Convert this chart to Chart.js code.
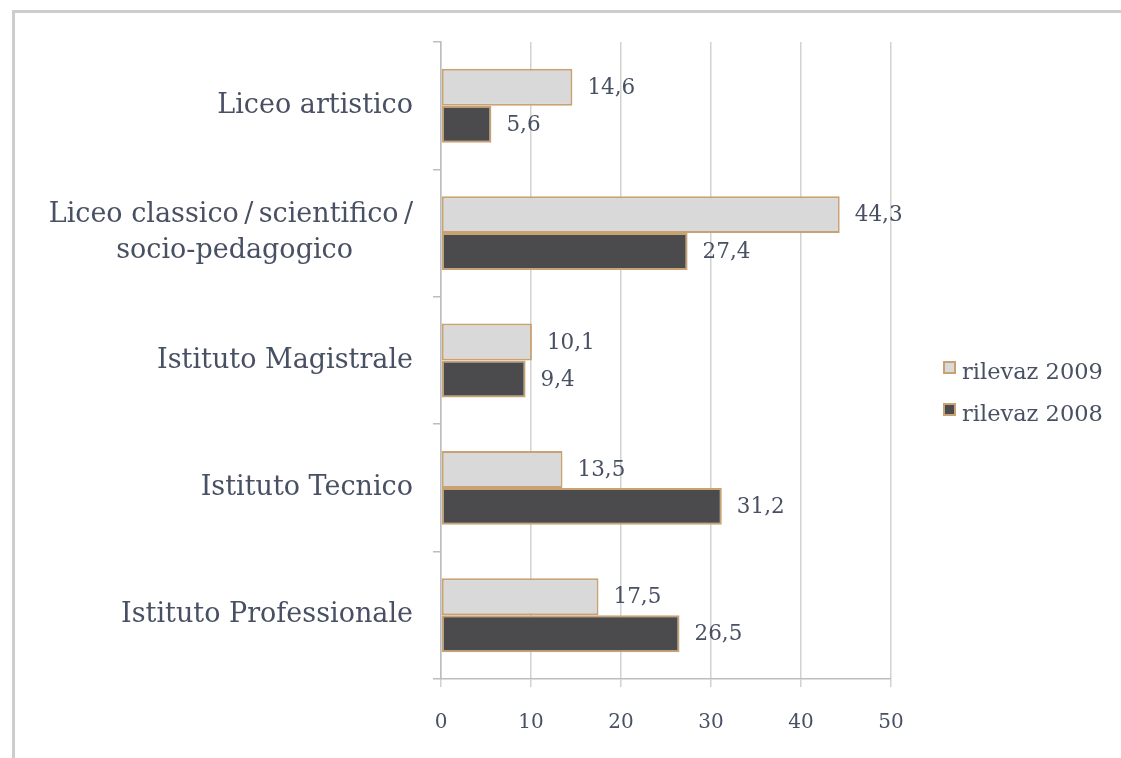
<!DOCTYPE html>
<html>
<head>
<meta charset="utf-8">
<script src="https://cdn.jsdelivr.net/npm/chart.js@4/dist/chart.umd.min.js"></script>
<style>
  html, body { margin: 0; padding: 0; background: #ffffff; }
  #wrap { position: relative; width: 1121px; height: 758px; overflow: hidden; }
  #frame { position: absolute; left: 12px; top: 10px; width: 1200px; height: 800px;
           border-top: 3px solid #cdcdcd; border-left: 3px solid #cdcdcd; }
  canvas { position: absolute; left: 0; top: 0; }
  #legend { position: absolute; left: 943px; top: 350px; font-family: "DejaVu Serif", serif;
            font-size: 22.5px; color: #485063; }
  #legend .item { display: flex; align-items: center; height: 42px; }
  #legend .box { width: 9px; height: 9px; border: 2px solid #c8a273; margin-right: 6px; margin-top: -8px; }
</style>
</head>
<body>
<div id="wrap">
  <div id="frame"></div>
  <canvas id="c" width="1121" height="758"></canvas>
  <div id="legend"></div>
</div>
<script>
const categories = [
  "Liceo artistico",
  ["Liceo classico\u2009/\u2009scientifico\u2009/", "socio-pedagogico\u00A0\u00A0\u00A0\u00A0\u00A0\u00A0\u00A0"],
  "Istituto Magistrale",
  "Istituto Tecnico",
  "Istituto Professionale"
];
const seriesNames = ["rilevaz 2009", "rilevaz 2008"];
const values2009 = [14.6, 44.3, 10.1, 13.5, 17.5];
const values2008 = [5.6, 27.4, 9.4, 31.2, 26.5];
const xTicks = [0, 10, 20, 30, 40, 50];

const textColor = "#485063";
const serif = "'DejaVu Serif', 'Liberation Serif', serif";

const valueLabels = {
  id: "valueLabels",
  afterDatasetsDraw(chart) {
    const ctx = chart.ctx;
    ctx.save();
    ctx.font = "21.5px " + serif;
    ctx.fillStyle = textColor;
    ctx.textAlign = "left";
    ctx.textBaseline = "middle";
    chart.data.datasets.forEach((ds, i) => {
      const meta = chart.getDatasetMeta(i);
      meta.data.forEach((el, j) => {
        const v = ds.data[j];
        ctx.fillText(v.toFixed(1).replace(".", ","), el.x + 15, el.y + 1);
      });
    });
    ctx.restore();
  }
};

const chart = new Chart(document.getElementById("c"), {
  type: "bar",
  data: {
    labels: categories,
    datasets: [
      { label: seriesNames[0], data: values2009, backgroundColor: "#d9d9d9",
        borderColor: "#c8a273", borderWidth: 2, borderSkipped: false },
      { label: seriesNames[1], data: values2008, backgroundColor: "#4b4b4d",
        borderColor: "#c8a273", borderWidth: 2, borderSkipped: false }
    ]
  },
  options: {
    indexAxis: "y",
    responsive: false,
    animation: false,
    devicePixelRatio: 1,
    layout: { padding: { left: 0, top: 42, right: 230, bottom: 0 } },
    datasets: { bar: { categoryPercentage: 0.58, barPercentage: 1.0 } },
    plugins: { legend: { display: false }, tooltip: { enabled: false } },
    scales: {
      x: {
        min: 0, max: 50,
        afterBuildTicks(scale) { scale.ticks = xTicks.map(v => ({ value: v })); },
        afterFit(scale) { scale.height = 79; },
        grid: { color: "#d2d2d2", lineWidth: 1.5, tickLength: 8, drawTicks: true },
        border: { color: "#bdbdbd", width: 1.5 },
        ticks: { color: textColor, font: { family: serif, size: 20 }, padding: 24 }
      },
      y: {
        offset: true,
        afterFit(scale) { scale.width = 441; },
        grid: { offset: true, drawOnChartArea: false, drawTicks: true, tickLength: 8,
                color: "#bdbdbd", lineWidth: 1.5 },
        border: { color: "#bdbdbd", width: 1.5 },
        ticks: { color: textColor, font: { family: serif, size: 27, lineHeight: 1.36 }, padding: 20 }
      }
    }
  },
  plugins: [valueLabels]
});

const legendEl = document.getElementById("legend");
chart.data.datasets.forEach(ds => {
  const item = document.createElement("div");
  item.className = "item";
  const box = document.createElement("span");
  box.className = "box";
  box.style.background = ds.backgroundColor;
  const txt = document.createElement("span");
  txt.textContent = ds.label;
  item.appendChild(box);
  item.appendChild(txt);
  legendEl.appendChild(item);
});
</script>
</body>
</html>
